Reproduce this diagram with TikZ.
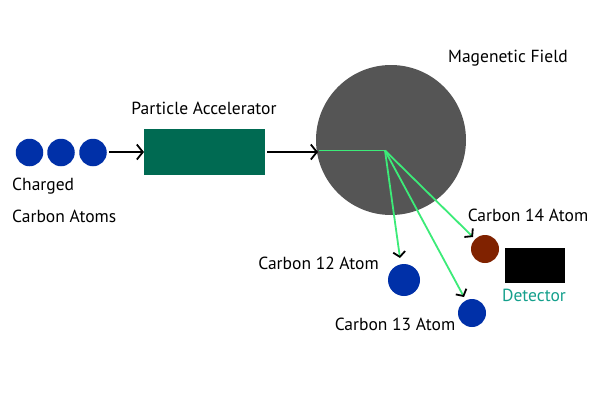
\documentclass[tikz,border=0pt]{standalone}
\usepackage{fontspec}
\setmainfont{PT Sans}
\usetikzlibrary{arrows.meta}
\definecolor{atomblue}{RGB}{0,48,168}
\definecolor{accgreen}{RGB}{0,106,82}
\definecolor{fieldgray}{RGB}{85,85,85}
\definecolor{beam}{RGB}{60,235,120}
\definecolor{c14brown}{RGB}{128,34,0}
\definecolor{detteal}{RGB}{20,160,140}
\tikzset{
  atom/.style={circle, fill=#1, inner sep=0pt},
  lbl/.style={font=\fontsize{17.5}{20}\selectfont, inner sep=0pt},
  flow/.style={black, line width=1.8pt, -{Straight Barb[length=6pt,width=15pt]}},
  ray/.style={beam, line width=1.8pt, -{Straight Barb[black,length=5pt,width=12pt]}},
}
\begin{document}
\begin{tikzpicture}[x=1pt,y=-1pt]
\useasboundingbox (0,0) rectangle (600,400);
\fill[white] (0,0) rectangle (600,400);
% charged atoms
\node[atom=atomblue, minimum size=27.5pt] (a1) at (29.5,152.5) {};
\node[atom=atomblue, minimum size=27.5pt] (a2) at (61,152.5) {};
\node[atom=atomblue, minimum size=27.5pt] (a3) at (93,152.5) {};
\node[lbl, anchor=west] (tch) at (12,186) {Charged};
\node[lbl, anchor=west] (tca) at (12,216) {Carbon Atoms};
% accelerator
\node[fill=accgreen, minimum width=121pt, minimum height=46pt, inner sep=0pt] (acc) at (204.5,152) {};
\node[lbl] (tacc) at (204,108) {Particle Accelerator};
% field
\node[circle, fill=fieldgray, minimum size=150pt, inner sep=0pt] (field) at (391,140) {};
\node[lbl] (tfield) at (508,58) {Magenetic Field};
% atoms after
\node[atom=atomblue, minimum size=32pt] (c12) at (404,280) {};
\node[atom=atomblue, minimum size=28pt] (c13) at (472,313) {};
\node[atom=c14brown, minimum size=28pt] (c14) at (485,249) {};
\node[lbl, anchor=east] (t12) at (379,263) {Carbon 12 Atom};
\node[lbl] (t13) at (395,324) {Carbon 13 Atom};
\node[lbl] (t14) at (528,215) {Carbon 14 Atom};
% detector
\node[fill=black, minimum width=60pt, minimum height=35pt, inner sep=0pt] (det) at (535,265.5) {};
\node[lbl, text=detteal] (tdet) at (534,295) {Detector};
% arrows
\coordinate (a3e) at (109,152);
\coordinate (acce) at (144,152);
\draw[flow] (a3e) -- (acce);
\coordinate (accx) at (267,152);
\coordinate (fin) at (318,152);
\draw[flow] (accx) -- (fin);
% beams
\coordinate (bs) at (319,150.5);
\coordinate (bv) at (385,150.5);
\coordinate (e12) at (400,258);
\coordinate (e13) at (464,297);
\coordinate (e14) at (473,237);
\draw[beam, line width=1.8pt] (bs) -- (bv);
\draw[ray] (bv) -- (e12);
\draw[ray] (bv) -- (e13);
\draw[ray] (bv) -- (e14);
\end{tikzpicture}
\end{document}
